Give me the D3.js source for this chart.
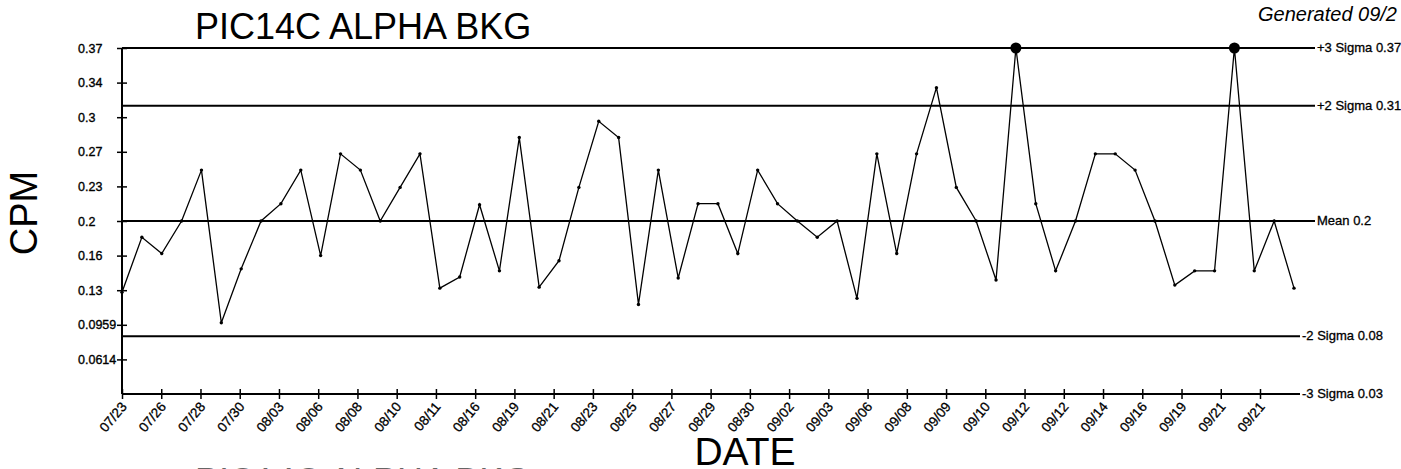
<!DOCTYPE html>
<html>
<head>
<meta charset="utf-8">
<script src="https://cdnjs.cloudflare.com/ajax/libs/d3/7.8.5/d3.min.js"></script>
<style>
  html, body { margin: 0; padding: 0; background: #fff; }
  svg { display: block; font-family: "Liberation Sans", Arial, sans-serif; }
</style>
</head>
<body>
<svg id="chart" width="1401" height="469"></svg>
<script>
// ---- data ----
const title = "PIC14C ALPHA BKG";
const generatedText = "Generated 09/2";
const xTickLabels = ["07/23","07/26","07/28","07/30","08/03","08/06","08/08","08/10","08/11","08/16",
  "08/19","08/21","08/23","08/25","08/27","08/29","08/30","09/02","09/03","09/06",
  "09/08","09/09","09/10","09/12","09/12","09/14","09/16","09/19","09/21","09/21"];
const cpmValues = [0.13,0.184,0.168,0.2,0.25,0.1,0.153,0.2,0.217,0.25,
  0.166,0.266,0.25,0.2,0.233,0.266,0.134,0.145,0.216,0.151,
  0.282,0.135,0.161,0.233,0.298,0.282,0.118,0.25,0.144,0.217,
  0.217,0.168,0.25,0.217,0.2,0.184,0.2,0.124,0.266,0.168,
  0.266,0.331,0.233,0.2,0.142,0.37,0.217,0.151,0.2,0.266,
  0.266,0.25,0.2,0.137,0.151,0.151,0.37,0.151,0.2,0.134];
const yTickValues = [0.37,0.336,0.302,0.268,0.234,0.2,0.166,0.132,0.098,0.064];
const yTickLabels = ["0.37","0.34","0.3","0.27","0.23","0.2","0.16","0.13","0.0959","0.0614"];
const limitNames = ["+3 Sigma","+2 Sigma","Mean","-2 Sigma","-3 Sigma"];
const limitValues = [0.37,0.3133,0.2,0.0867,0.03];
const limitTexts = ["0.37","0.31","0.2","0.08","0.03"];
const yDomain = [0.03, 0.37];

// ---- layout ----
const svg = d3.select("#chart");
const plotLeft = 122, plotTop = 48, plotBottom = 394;
const lastPointX = 1294, lastTickX = 1260;
const upperLineEnd = 1315, lowerLineEnd = 1300;
const FONT = "Liberation Sans, Arial, sans-serif";

const y = d3.scaleLinear().domain(yDomain).range([plotBottom, plotTop]);
const x = d3.scaleLinear().domain([0, cpmValues.length - 1]).range([plotLeft, lastPointX]);
const xt = d3.scalePoint().domain(d3.range(xTickLabels.length)).range([plotLeft, lastTickX]);

svg.append("rect").attr("width", 1401).attr("height", 469).attr("fill", "#fff");

// control limit lines
const limits = limitValues.map((v, i) => ({ v, name: limitNames[i], t: limitTexts[i] }));
const lineEnd = d => (d.v >= 0.2 ? upperLineEnd : lowerLineEnd);
svg.append("g").selectAll("line").data(limits).join("line")
  .attr("x1", plotLeft).attr("x2", lineEnd)
  .attr("y1", d => y(d.v)).attr("y2", d => y(d.v))
  .attr("stroke", "#000").attr("stroke-width", 2);
svg.append("g").selectAll("text").data(limits).join("text")
  .attr("x", d => lineEnd(d) + 2)
  .attr("y", d => y(d.v) + 4)
  .attr("font-size", 13).attr("fill", "#000").attr("stroke", "#000").attr("stroke-width", 0.3)
  .text(d => d.name + " " + d.t);

// y axis
const yAxis = svg.append("g").attr("transform", `translate(${plotLeft},0)`)
  .call(d3.axisLeft(y).tickValues(yTickValues).tickFormat((d, i) => yTickLabels[i]).tickSize(5).tickSizeOuter(0));
yAxis.select(".domain").attr("stroke", "#000").attr("stroke-width", 2).attr("d", `M0,${plotTop}V${plotBottom}`);
yAxis.selectAll(".tick line").attr("x1", -5).attr("x2", 5).attr("stroke", "#000").attr("stroke-width", 1.5);
yAxis.selectAll(".tick text").attr("x", -44).attr("text-anchor", "start")
  .attr("font-size", 12.5).attr("font-family", FONT).attr("fill", "#000")
  .attr("stroke", "#000").attr("stroke-width", 0.35);

// x axis
const xAxis = svg.append("g").attr("transform", `translate(0,${plotBottom})`)
  .call(d3.axisBottom(xt).tickFormat(i => xTickLabels[i]).tickSize(5).tickSizeOuter(0));
xAxis.select(".domain").remove();
xAxis.selectAll(".tick line").attr("y1", -5).attr("y2", 5).attr("stroke", "#000").attr("stroke-width", 1.5);
xAxis.selectAll(".tick text")
  .attr("font-size", 13.5).attr("font-family", FONT).attr("fill", "#000")
  .attr("stroke", "#000").attr("stroke-width", 0.3)
  .attr("text-anchor", "end").attr("dy", null).attr("x", 0).attr("y", 0)
  .attr("transform", "translate(5,13) rotate(-50)");

// data line
svg.append("path").datum(cpmValues)
  .attr("fill", "none").attr("stroke", "#000").attr("stroke-width", 1.3)
  .attr("d", d3.line().x((d, i) => x(i)).y(d => y(d)));
svg.append("g").selectAll("circle").data(cpmValues).join("circle")
  .attr("cx", (d, i) => x(i)).attr("cy", d => y(d))
  .attr("r", d => d >= limitValues[0] ? 5.5 : 1.7).attr("fill", "#000");

// titles
svg.append("text").attr("x", 195).attr("y", 39).attr("font-size", 36).attr("fill", "#000").text(title);
svg.append("text").attr("x", 195).attr("y", 494).attr("font-size", 36).attr("fill", "#666").text(title);
svg.append("text").attr("x", 1258).attr("y", 21).attr("font-size", 20).attr("font-style", "italic")
  .attr("fill", "#000").text(generatedText);
svg.append("text").attr("x", 745).attr("y", 465).attr("text-anchor", "middle").attr("font-size", 39)
  .attr("fill", "#000").text("DATE");
svg.append("text").attr("transform", "translate(37,213) rotate(-90)").attr("text-anchor", "middle")
  .attr("font-size", 38).attr("fill", "#000").text("CPM");
</script>
</body>
</html>
